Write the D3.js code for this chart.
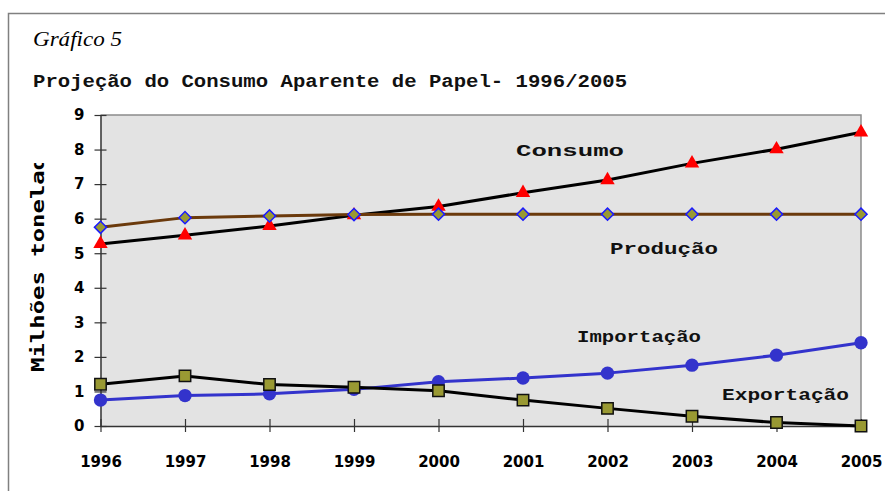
<!DOCTYPE html>
<html><head><meta charset="utf-8">
<script src="https://cdn.jsdelivr.net/npm/d3@7"></script>
<style>body{margin:0;background:#fff}svg{display:block}</style>
</head><body><svg id="c" width="885" height="491"></svg>
<script>
const years = [1996,1997,1998,1999,2000,2001,2002,2003,2004,2005];
const consumo    = [5.27,5.52,5.79,6.10,6.35,6.75,7.12,7.60,8.01,8.50];
const producao   = [5.75,6.03,6.08,6.12,6.13,6.13,6.13,6.13,6.13,6.13];
const importacao = [0.75,0.88,0.93,1.06,1.28,1.39,1.53,1.76,2.05,2.41];
const exportacao = [1.21,1.45,1.20,1.12,1.02,0.75,0.51,0.28,0.10,0.00];
const yTicks = [0,1,2,3,4,5,6,7,8,9];
const subtitle = "Gráfico 5";
const title = "Projeção do Consumo Aparente de Papel- 1996/2005";
const yLabel = "Milhões toneladas";

const svg = d3.select("#c");
const L=100.5, R=861, T=115, B=426;
const x = d3.scalePoint().domain(years).range([L,R]);
const y = d3.scaleLinear().domain([0,9]).range([B,T]);

// outer frame
svg.append("path").attr("d","M8.5,491 V13.5 H885").attr("fill","none").attr("stroke","#808080").attr("stroke-width",1.5);

svg.append("text").attr("x",33).attr("y",46).text(subtitle)
  .attr("font-family","Liberation Serif").attr("font-style","italic").attr("font-size",20)
  .attr("textLength",89).attr("lengthAdjust","spacingAndGlyphs").attr("fill","#000");
svg.append("text").attr("x",33).attr("y",87).text(title)
  .attr("font-family","Liberation Mono").attr("font-weight","bold").attr("font-size",18)
  .attr("textLength",594).attr("lengthAdjust","spacingAndGlyphs").attr("fill","#111");

// plot area
svg.append("rect").attr("x",L).attr("y",T).attr("width",R-L).attr("height",B-T).attr("fill","#e3e3e3");
svg.append("path").attr("d",`M${L},${T} H${R} V${B}`).attr("fill","none").attr("stroke","#8c8c8c").attr("stroke-width",1.5);

// axes
const yAxis = svg.append("g").attr("transform",`translate(${L},0)`)
  .call(d3.axisLeft(y).tickValues(yTicks).tickSize(6).tickPadding(10).tickFormat(d3.format("d")));
yAxis.selectAll(".tick line").attr("x2",6).attr("x1",-6);
const xAxis = svg.append("g").attr("transform",`translate(0,${B})`)
  .call(d3.axisBottom(x).tickSize(6).tickPadding(24).tickFormat(d3.format("d")));
xAxis.selectAll(".tick line").attr("y1",-7).attr("y2",6);
[yAxis,xAxis].forEach(a=>{
  a.select(".domain").attr("stroke","#333").attr("stroke-width",1.5);
  a.selectAll(".tick line").attr("stroke","#333").attr("stroke-width",1.2);
  a.selectAll("text").attr("font-family","DejaVu Sans").attr("font-weight","bold").attr("font-size",15).attr("fill","#000");
});
xAxis.select(".domain").attr("d",`M${L},0.5H${R}`);
yAxis.select(".domain").attr("d",`M0.5,${B}V${T}`);

// y label (clipped at top like the reference)
svg.append("clipPath").attr("id","yl").append("rect").attr("x",0).attr("y",163).attr("width",80).attr("height",260);
svg.append("g").attr("clip-path","url(#yl)")
  .append("text").attr("transform","translate(44,372) rotate(-90)").text(yLabel)
  .attr("font-family","DejaVu Sans Mono").attr("font-weight","bold").attr("font-size",18)
  .attr("textLength",245).attr("lengthAdjust","spacingAndGlyphs").attr("fill","#000");

const line = d3.line().x((d,i)=>x(years[i])).y(d=>y(d));
function series(vals,color,sym,size,fill,stroke,sw,rot){
  svg.append("path").datum(vals).attr("d",line).attr("fill","none").attr("stroke",color).attr("stroke-width",3).attr("stroke-linejoin","round");
  svg.append("g").selectAll("path").data(vals).join("path")
    .attr("transform",(d,i)=>`translate(${x(years[i])},${y(d)}) rotate(${rot||0})`)
    .attr("d",d3.symbol().type(sym).size(size))
    .attr("fill",fill).attr("stroke",stroke).attr("stroke-width",sw);
}
series(consumo,"#000",d3.symbolTriangle,90,"#ff0000","none",0);
series(producao,"#6b3a0c",d3.symbolSquare,74,"#999933","#1a1aff",1.5,45);
series(importacao,"#3333cc",d3.symbolCircle,140,"#3333cc","none",0);
series(exportacao,"#000",d3.symbolSquare,130,"#999933","#111",1.5);

const lab=(t,xx,yy,w)=>svg.append("text").attr("x",xx).attr("y",yy).text(t)
  .attr("font-family","Liberation Mono").attr("font-weight","bold").attr("font-size",17)
  .attr("textLength",w).attr("lengthAdjust","spacingAndGlyphs").attr("fill","#111");
lab("Consumo",516,156,108);
lab("Produção",610,254,108);
lab("Importação",577,342,124);
lab("Exportação",722,400,127);
</script></body></html>
